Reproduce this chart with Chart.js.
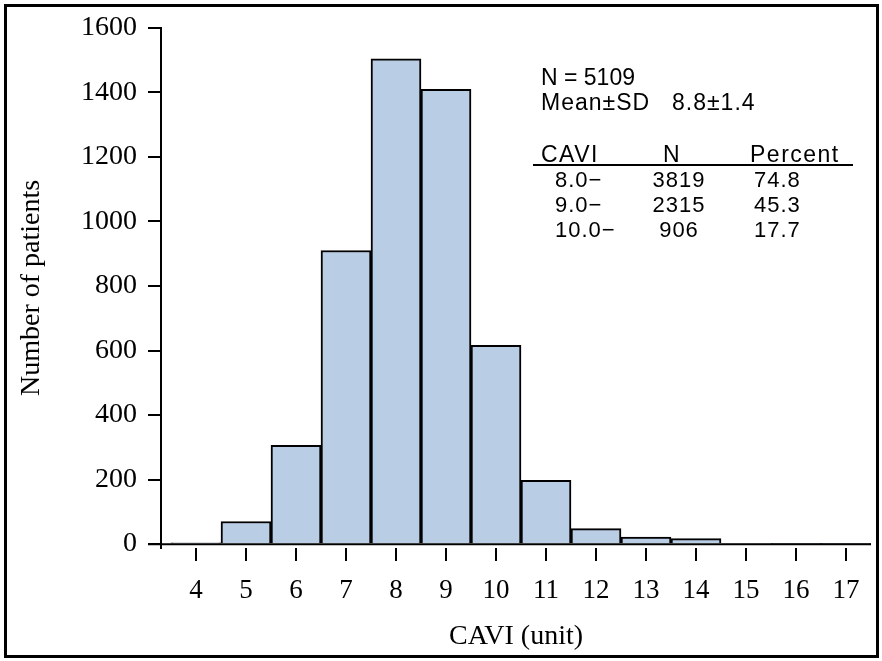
<!DOCTYPE html>
<html>
<head>
<meta charset="utf-8">
<script src="https://cdn.jsdelivr.net/npm/chart.js@4/dist/chart.umd.min.js"></script>
<style>
  html, body { margin: 0; padding: 0; background: #fff; }
  #wrap { position: relative; width: 882px; height: 661px; }
</style>
</head>
<body>
<div id="wrap"><canvas id="cavi"></canvas></div>
<script>
// histogram bins (CAVI, unit) and patient counts
const cavi = [4, 5, 6, 7, 8, 9, 10, 11, 12, 13, 14, 15, 16, 17]
const patients = [4, 70, 306, 910, 1504, 1409, 616, 198, 48, 22, 17, 3, 1, 1]
const yTicks = [0, 200, 400, 600, 800, 1000, 1200, 1400, 1600]

// summary text in the upper right
const summaryLines = ['N = 5109', 'Mean\u00b1SD', '8.8\u00b11.4']
const tableHead = ['CAVI', 'N', 'Percent']
const tableCut = ['8.0\u2212', '9.0\u2212', '10.0\u2212']
const tableN = ['3819', '2315', '906']
const tablePct = ['74.8', '45.3', '17.7']

const serif = '"Liberation Serif", "Times New Roman", serif'
const sans = '"Liberation Sans", Arial, sans-serif'

const framePlugin = {
  id: 'frame',
  beforeDraw(chart) {
    const ctx = chart.ctx
    ctx.save()
    ctx.fillStyle = '#fff'
    ctx.fillRect(0, 0, chart.width, chart.height)
    ctx.restore()
  },
  afterDatasetsDraw(chart) {
    // x axis line sits on the value 0, ticks hang below with a small gap
    const ctx = chart.ctx
    const area = chart.chartArea
    const y0 = chart.scales.y.getPixelForValue(0)
    ctx.save()
    ctx.strokeStyle = '#000'
    ctx.lineWidth = 2
    ctx.beginPath()
    ctx.moveTo(area.left - 13, y0)
    ctx.lineTo(area.right, y0)
    ctx.stroke()
    ctx.restore()
  },
  afterDraw(chart) {
    const ctx = chart.ctx
    ctx.save()
    ctx.strokeStyle = '#000'
    ctx.lineWidth = 3
    ctx.strokeRect(5.5, 5.5, chart.width - 10, chart.height - 10)

    ctx.fillStyle = '#000'
    ctx.textBaseline = 'alphabetic'
    ctx.font = '23px ' + sans
    ctx.textAlign = 'left'
    ctx.fillText(summaryLines[0], 541, 85)
    ctx.letterSpacing = '1px'
    ctx.fillText(summaryLines[1], 541, 110)
    ctx.fillText(summaryLines[2], 672, 110)

    ctx.letterSpacing = '1.5px'
    ctx.fillText(tableHead[0], 541, 162)
    ctx.textAlign = 'center'
    ctx.fillText(tableHead[1], 672, 162)
    ctx.textAlign = 'left'
    ctx.fillText(tableHead[2], 750, 162)

    ctx.lineWidth = 2
    ctx.beginPath()
    ctx.moveTo(533, 165)
    ctx.lineTo(853, 165)
    ctx.stroke()

    ctx.letterSpacing = '1px'
    ctx.font = '22px ' + sans
    for (let i = 0; i < tableCut.length; i++) {
      const by = 187 + i * 25
      ctx.textAlign = 'left'
      ctx.fillText(tableCut[i], 555, by)
      ctx.textAlign = 'center'
      ctx.fillText(tableN[i], 679, by)
      ctx.textAlign = 'left'
      ctx.fillText(tablePct[i], 754, by)
    }
    ctx.restore()
  }
}

new Chart(document.getElementById('cavi'), {
  type: 'bar',
  data: {
    datasets: [{
      label: 'Number of patients',
      data: cavi.map((c, i) => ({ x: c, y: patients[i] })),
      backgroundColor: 'rgb(185, 205, 229)',
      borderColor: '#000',
      borderWidth: 2,
      borderSkipped: 'start',
      barPercentage: 1,
      categoryPercentage: 1
    }]
  },
  options: {
    responsive: true,
    maintainAspectRatio: false,
    animation: false,
    devicePixelRatio: 1,
    layout: { padding: { top: 26, right: 11, left: 0, bottom: 0 } },
    plugins: {
      legend: { display: false },
      tooltip: { enabled: false }
    },
    scales: {
      x: {
        type: 'linear',
        min: 3.3,
        max: 17.5,
        offset: false,
        afterFit(scale) { scale.height = 113 },
        afterBuildTicks(scale) { scale.ticks = cavi.map(v => ({ value: v })) },
        border: { display: false },
        grid: {
          offset: false,
          drawOnChartArea: false,
          drawTicks: true,
          tickLength: 13,
          color: '#000',
          lineWidth: 2
        },
        ticks: {
          color: '#000',
          padding: 14,
          maxRotation: 0,
          autoSkip: false,
          font: { family: serif, size: 27 },
          callback: v => String(v)
        },
        title: {
          display: true,
          text: 'CAVI (unit)',
          color: '#000',
          font: { family: serif, size: 28 },
          padding: { top: 0, bottom: 8 }
        }
      },
      y: {
        min: -12,
        max: 1600,
        afterFit(scale) { scale.width = 161 },
        afterBuildTicks(scale) { scale.ticks = yTicks.map(v => ({ value: v })) },
        border: { display: true, color: '#000', width: 2 },
        grid: {
          drawOnChartArea: false,
          drawTicks: true,
          tickLength: 13,
          color: '#000',
          lineWidth: 2
        },
        ticks: {
          color: '#000',
          padding: 11,
          font: { family: serif, size: 28 },
          callback: v => String(v)
        },
        title: {
          display: true,
          text: 'Number of patients',
          color: '#000',
          font: { family: serif, size: 28 },
          padding: { top: 15, bottom: 0 }
        }
      }
    }
  },
  plugins: [framePlugin]
})
</script>
</body>
</html>
